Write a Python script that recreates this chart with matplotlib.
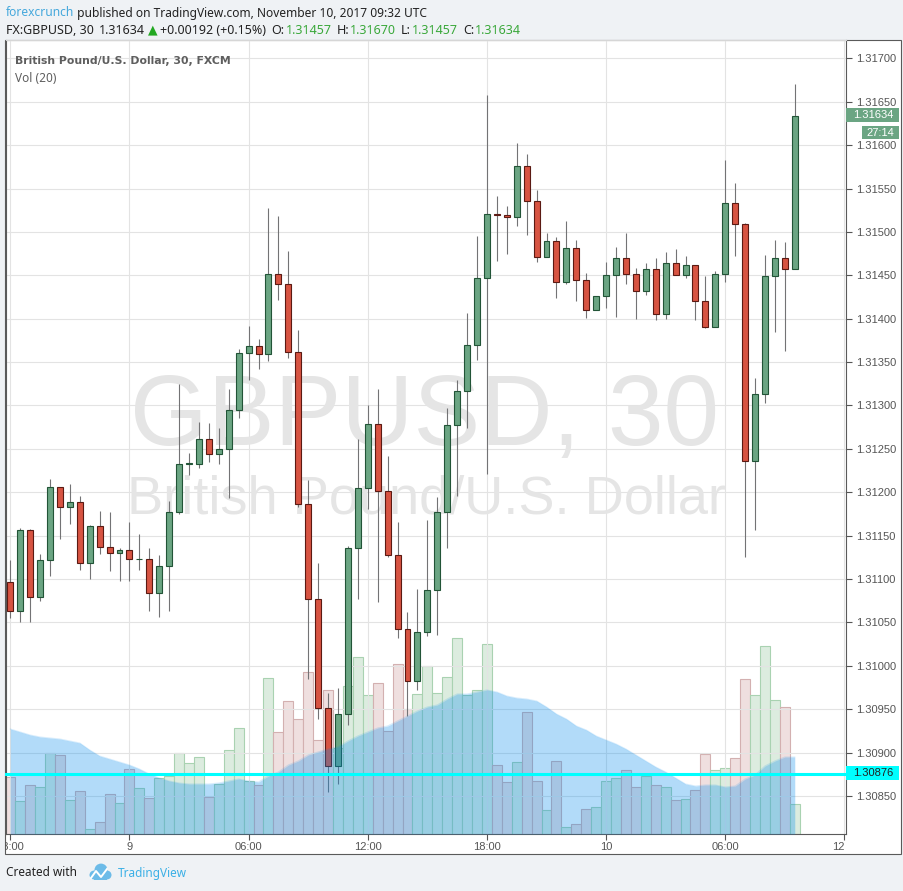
import matplotlib
matplotlib.use("Agg")
import matplotlib.pyplot as plt
from matplotlib.patches import Rectangle, Circle
from matplotlib.transforms import Bbox, TransformedBbox, blended_transform_factory

# GBPUSD 30 min candles, Nov 8 18:00 -> Nov 10 09:30 (UTC)
opens = [
    1.31097, 1.31063, 1.31157, 1.31079, 1.31122, 1.31206, 1.31183, 1.31189, 1.31118, 1.31161,
    1.31137, 1.31130, 1.31134, 1.31123, 1.31123, 1.31084, 1.31115, 1.31177, 1.31233, 1.31233,
    1.31261, 1.31244, 1.31250, 1.31295, 1.31361, 1.31369, 1.31359, 1.31452, 1.31440, 1.31362,
    1.31187, 1.31077, 1.30952, 1.30885, 1.30945, 1.31136, 1.31205, 1.31279, 1.31201, 1.31128,
    1.31043, 1.30983, 1.31039, 1.31087, 1.31177, 1.31277, 1.31317, 1.31370, 1.31447, 1.31521,
    1.31520, 1.31517, 1.31576, 1.31536, 1.31471, 1.31489, 1.31442, 1.31481, 1.31445, 1.31410,
    1.31426, 1.31450, 1.31470, 1.31452, 1.31432, 1.31457, 1.31405, 1.31464, 1.31450, 1.31462,
    1.31420, 1.31390, 1.31452, 1.31533, 1.31509, 1.31236, 1.31313, 1.31449, 1.31470, 1.31457,
]
highs = [
    1.31122, 1.31159, 1.31158, 1.31129, 1.31215, 1.31206, 1.31209, 1.31196, 1.31162, 1.31178,
    1.31177, 1.31136, 1.31166, 1.31152, 1.31136, 1.31128, 1.31190, 1.31325, 1.31245, 1.31281,
    1.31280, 1.31274, 1.31319, 1.31365, 1.31392, 1.31377, 1.31527, 1.31518, 1.31478, 1.31387,
    1.31214, 1.31118, 1.30969, 1.30974, 1.31138, 1.31261, 1.31301, 1.31319, 1.31242, 1.31166,
    1.31062, 1.31089, 1.31168, 1.31194, 1.31297, 1.31329, 1.31407, 1.31495, 1.31658, 1.31541,
    1.31530, 1.31602, 1.31590, 1.31548, 1.31499, 1.31494, 1.31513, 1.31491, 1.31453, 1.31426,
    1.31465, 1.31483, 1.31499, 1.31458, 1.31464, 1.31470, 1.31477, 1.31480, 1.31472, 1.31462,
    1.31449, 1.31455, 1.31583, 1.31556, 1.31510, 1.31332, 1.31473, 1.31491, 1.31488, 1.31670,
]
lows = [
    1.31055, 1.31051, 1.31050, 1.31075, 1.31104, 1.31146, 1.31164, 1.31110, 1.31100, 1.31129,
    1.31109, 1.31098, 1.31098, 1.31111, 1.31063, 1.31056, 1.31063, 1.31175, 1.31220, 1.31228,
    1.31235, 1.31233, 1.31193, 1.31286, 1.31329, 1.31342, 1.31351, 1.31422, 1.31355, 1.31183,
    1.30985, 1.30939, 1.30855, 1.30864, 1.30932, 1.31077, 1.31181, 1.31074, 1.31126, 1.31032,
    1.30942, 1.30972, 1.31035, 1.31036, 1.31136, 1.31196, 1.31274, 1.31352, 1.31221, 1.31466,
    1.31475, 1.31507, 1.31497, 1.31465, 1.31471, 1.31424, 1.31440, 1.31420, 1.31401, 1.31410,
    1.31412, 1.31402, 1.31440, 1.31400, 1.31427, 1.31398, 1.31400, 1.31450, 1.31447, 1.31399,
    1.31389, 1.31390, 1.31442, 1.31472, 1.31126, 1.31157, 1.31303, 1.31385, 1.31363, 1.31457,
]
closes = [
    1.31063, 1.31157, 1.31079, 1.31122, 1.31206, 1.31183, 1.31189, 1.31118, 1.31161, 1.31137,
    1.31130, 1.31134, 1.31123, 1.31123, 1.31084, 1.31115, 1.31177, 1.31233, 1.31234, 1.31261,
    1.31244, 1.31250, 1.31295, 1.31361, 1.31369, 1.31359, 1.31452, 1.31440, 1.31362, 1.31187,
    1.31077, 1.30952, 1.30885, 1.30945, 1.31136, 1.31205, 1.31279, 1.31201, 1.31128, 1.31043,
    1.30983, 1.31039, 1.31087, 1.31177, 1.31277, 1.31317, 1.31370, 1.31447, 1.31521, 1.31519,
    1.31517, 1.31576, 1.31536, 1.31471, 1.31489, 1.31442, 1.31481, 1.31445, 1.31410, 1.31426,
    1.31450, 1.31470, 1.31452, 1.31432, 1.31457, 1.31405, 1.31464, 1.31450, 1.31462, 1.31420,
    1.31390, 1.31452, 1.31533, 1.31509, 1.31236, 1.31313, 1.31449, 1.31470, 1.31457, 1.31634,
]
volumes = [
    57, 33, 49, 47, 81, 79, 34, 43, 5, 12,
    40, 31, 65, 46, 36, 56, 58, 81, 71, 77,
    37, 50, 84, 106, 53, 49, 156, 102, 133, 115,
    162, 94, 144, 86, 148, 177, 139, 151, 103, 170,
    125, 140, 168, 141, 157, 196, 139, 144, 190, 69,
    52, 72, 122, 53, 24, 73, 7, 10, 25, 27,
    53, 56, 64, 47, 58, 49, 47, 34, 35, 44,
    80, 64, 66, 76, 155, 139, 188, 134, 127, 30,
]
vol_ma20 = [
    105, 102, 99, 97, 96, 95, 93, 91, 84, 78,
    75, 72, 69, 65, 60, 56, 53, 51, 50, 50,
    50, 51, 53, 55, 53, 52, 58, 62, 69, 73,
    79, 82, 85, 87, 93, 98, 102, 106, 108, 113,
    118, 123, 127, 129, 135, 140, 140, 142, 144, 142,
    138, 136, 135, 133, 127, 120, 115, 108, 104, 98,
    94, 90, 85, 79, 73, 67, 62, 56, 50, 48,
    49, 49, 47, 48, 55, 59, 68, 73, 77, 77,
]

time_ticks = [0, 12, 24, 36, 48, 60, 72, 84]
time_labels = ["18:00", "9", "06:00", "12:00", "18:00", "10", "06:00", "12"]
price_ticks = [1.3085, 1.3090, 1.3095, 1.3100, 1.3105, 1.3110, 1.3115, 1.3120, 1.3125,
               1.3130, 1.3135, 1.3140, 1.3145, 1.3150, 1.3155, 1.3160, 1.3165, 1.3170]
hline_level = 1.30876
last_price = closes[-1]

W, H = 904, 891
PLOT_L, PLOT_R, PLOT_T, PLOT_B = 6, 846, 40, 834

UP, DOWN = "#6ba583", "#d75442"
UP_EDGE, DOWN_EDGE = "#225437", "#5b1a13"
WICK = "#737375"
VOL_UP, VOL_UP_EDGE = "#dcecdf", "#a9d2b1"
VOL_DOWN, VOL_DOWN_EDGE = "#efdfdf", "#d3b0b0"
TXT = "#222222"
AXIS_TXT = "#555555"
GREEN_TXT = "#3aa83a"


def fx(x):
    return x / W


def fy(y):
    return 1 - y / H


def text_run(fig, x, y, parts, size, family):
    # draw text pieces one after another on one line
    renderer = fig.canvas.get_renderer()
    for s, color, weight, gap in parts:
        t = fig.text(fx(x), fy(y), s, color=color, fontweight=weight, fontsize=size,
                     family=family, va="center", ha="left")
        x += t.get_window_extent(renderer).width + gap


def box_label(fig, x0, y0, x1, y1, face, s, color, ha="left", tx=None):
    fig.add_artist(Rectangle((fx(x0), fy(y1)), (x1 - x0) / W, (y1 - y0) / H,
                             transform=fig.transFigure, facecolor=face, edgecolor="none", zorder=5))
    if tx is None:
        tx = x0 + 7
    fig.text(fx(tx), fy((y0 + y1) / 2 + 0.5), s, color=color, fontsize=8, ha=ha, va="center", zorder=6)


def main():
    plt.rcParams["font.family"] = ["Liberation Sans", "DejaVu Sans"]
    fig = plt.figure(figsize=(W / 100, H / 100), dpi=100, facecolor="#eff2f5")

    # white chart frame
    fig.add_artist(Rectangle((fx(5), fy(854)), 896 / W, 814 / H, transform=fig.transFigure,
                             facecolor="white", edgecolor="#5a5a5a", linewidth=0.8, zorder=-1))

    rect = [fx(PLOT_L), fy(PLOT_B), (PLOT_R - PLOT_L) / W, (PLOT_B - PLOT_T) / H]
    idx = list(range(len(closes)))
    xlim = (-0.43, 84.16)
    vol_top = PLOT_B - PLOT_T

    # volume bars (bottom layer)
    ax_vol = fig.add_axes(rect, zorder=0)
    ax_vol.axis("off")
    vcol = [VOL_UP if c >= o else VOL_DOWN for o, c in zip(opens, closes)]
    vedge = [VOL_UP_EDGE if c >= o else VOL_DOWN_EDGE for o, c in zip(opens, closes)]
    ax_vol.bar(idx, volumes, width=1.0, color=vcol, edgecolor=vedge, linewidth=0.8)
    ax_vol.set_xlim(*xlim)
    ax_vol.set_ylim(0, vol_top)

    # price candles
    ax = fig.add_axes(rect, zorder=1)
    ax.set_facecolor("none")
    ax.set_axisbelow(True)
    ax.grid(True, color="#e3e3e3", linewidth=0.8)
    ax.vlines(idx, lows, highs, color=WICK, linewidth=0.8, zorder=2)
    bottoms = [min(o, c) for o, c in zip(opens, closes)]
    heights = [abs(c - o) for o, c in zip(opens, closes)]
    faces = [UP if c >= o else DOWN for o, c in zip(opens, closes)]
    edges = [UP_EDGE if c >= o else DOWN_EDGE for o, c in zip(opens, closes)]
    ax.bar(idx, heights, bottom=bottoms, width=0.6, color=faces, edgecolor=edges,
           linewidth=0.8, zorder=3)
    ax.set_xlim(*xlim)
    ax.set_ylim(1.308063, 1.317211)

    ax.set_yticks(price_ticks)
    ax.set_yticklabels([f"{p:.5f}" for p in price_ticks])
    ax.yaxis.tick_right()
    ax.set_xticks(time_ticks)
    ax.set_xticklabels(time_labels)
    ax.tick_params(axis="both", length=4, width=0.8, color=AXIS_TXT, labelcolor=AXIS_TXT,
                   labelsize=8)
    ax.tick_params(axis="y", pad=3)
    ax.tick_params(axis="x", pad=2)
    for side in ("left", "bottom", "right"):
        ax.spines[side].set_color("#5a5a5a")
        ax.spines[side].set_linewidth(0.8)
    ax.spines["top"].set_color("#d6d6d6")
    ax.spines["top"].set_linewidth(0.8)

    # first time label is cut by the chart frame, last one sits left of the edge
    ticks = ax.xaxis.get_major_ticks()
    first = ticks[0].label1
    first.set_clip_box(TransformedBbox(Bbox.from_extents(fx(5.5), 0, 1, 1), fig.transFigure))
    first.set_clip_on(True)
    ticks[-1].label1.set_horizontalalignment("right")

    # watermark
    ax.text(fx(425), fy(445), "GBPUSD, 30", transform=fig.transFigure, fontsize=72,
            color="#e5e5e5", ha="center", va="baseline", zorder=0.6)
    ax.text(fx(427), fy(513), "British Pound/U.S. Dollar", transform=fig.transFigure,
            fontsize=39, color="#e5e5e5", ha="center", va="baseline", zorder=0.6)

    # volume moving average area on top of candles
    ax_ma = fig.add_axes(rect, zorder=2)
    ax_ma.axis("off")
    ax_ma.fill_between(idx, 0, vol_ma20, color="#008aee", alpha=0.3, linewidth=0)
    ax_ma.plot(idx, vol_ma20, color="#008aee", alpha=0.15, linewidth=0.8)
    ax_ma.set_xlim(*xlim)
    ax_ma.set_ylim(0, vol_top)
    ax_ma.plot([0, 1], [hline_level, hline_level], color="#00ffff", linewidth=2.2,
               transform=blended_transform_factory(ax_ma.transAxes, ax.transData),
               clip_on=False)

    # header
    text_run(fig, 6, 13, [("forexcrunch", "#45a8dc", "normal", 0),
                          (" published on TradingView.com, November 10, 2017 09:32 UTC",
                           TXT, "normal", 0)], 8.6, ["Noto Sans", "DejaVu Sans"])
    text_run(fig, 6, 30, [("FX:GBPUSD, 30", TXT, "bold", 5),
                          ("1.31634", TXT, "normal", 3),
                          ("\u25b2", "#22a822", "normal", 3),
                          ("+0.00192 (+0.15%)", TXT, "normal", 5),
                          ("O:", TXT, "bold", 1), ("1.31457", GREEN_TXT, "normal", 5),
                          ("H:", TXT, "bold", 1), ("1.31670", GREEN_TXT, "normal", 5),
                          ("L:", TXT, "bold", 1), ("1.31457", GREEN_TXT, "normal", 5),
                          ("C:", TXT, "bold", 1), ("1.31634", GREEN_TXT, "normal", 0)],
             9, ["Noto Sans", "DejaVu Sans"])

    fig.text(fx(15), fy(61), "British Pound/U.S. Dollar, 30, FXCM", color="#5e5e5e",
             fontsize=7.8, fontweight="bold", family=["DejaVu Sans"], va="center")
    fig.text(fx(15), fy(78), "Vol (20)", color="#5e5e5e", fontsize=8.5,
             family=["Noto Sans", "DejaVu Sans"], va="center")

    # price scale labels
    box_label(fig, 846, 108, 899, 122, UP, f"{last_price:.5f}", "white")
    box_label(fig, 862, 126, 899, 139, UP, "27:14", "white", ha="center", tx=880)
    box_label(fig, 846, 766, 899, 780, "#00ffff", f"{hline_level:.5f}", TXT)

    # footer
    fig.text(fx(6), fy(873), "Created with", color=TXT, fontsize=8.5,
             family=["Noto Sans", "DejaVu Sans"], va="center")
    for cx, cy, r in [(94, 875, 4.5), (101, 870, 6.5), (107, 875, 4.5)]:
        fig.add_artist(Circle((fx(cx), fy(cy)), r / W, transform=fig.transFigure,
                              facecolor="#6cbbe8", edgecolor="none"))
    fig.add_artist(Rectangle((fx(94), fy(879.5)), 13 / W, 5 / H, transform=fig.transFigure,
                             facecolor="#6cbbe8", edgecolor="none"))
    fig.add_artist(plt.Line2D([fx(91), fx(96), fx(101), fx(107)],
                              [fy(878), fy(871), fy(877), fy(869)],
                              transform=fig.transFigure, color="white", linewidth=1.4))
    fig.text(fx(118), fy(873), "TradingView", color="#3bb0e6", fontsize=8.5,
             family=["Noto Sans", "DejaVu Sans"], va="center")

    fig.savefig("out.png", dpi=100, facecolor=fig.get_facecolor())


if __name__ == "__main__":
    main()
